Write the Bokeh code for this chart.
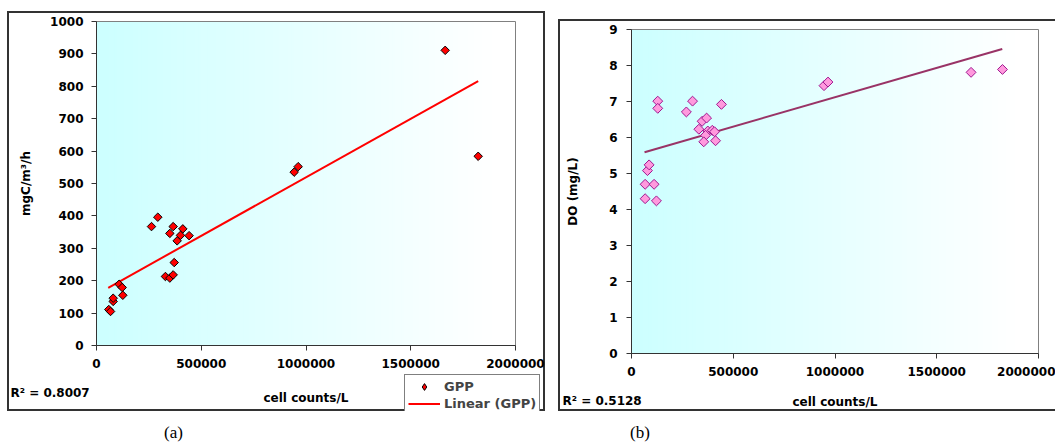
import numpy as np
from bokeh.plotting import figure
from bokeh.models import (Range1d, FixedTicker, NumeralTickFormatter, Label,
                          Legend, LegendItem, Div)
from bokeh.layouts import row, column
from bokeh.embed import file_html
from bokeh.resources import INLINE

# ---------------- data ----------------
cell_counts_gpp = [58700, 67000, 79600, 79600, 108000, 122600, 125600, 262500,
                   292600, 350000, 366000, 412000, 401000, 385000, 442000,
                   371000, 329000, 350000, 366000, 943600, 962600, 1664400,
                   1821900]
gpp = [111, 105, 136, 146, 189, 179, 155, 367, 396, 346, 367, 360, 340, 323,
       339, 256, 213, 208, 218, 535, 552, 911, 584]

cell_counts_do = [67000, 122500, 67000, 111000, 78400, 86600, 129000, 129000,
                  269600, 300000, 442000, 347000, 369000, 331000, 375000,
                  397000, 408000, 364000, 355000, 413000, 946000, 965600,
                  1668600, 1823000]
do_vals = [4.30, 4.24, 4.70, 4.70, 5.08, 5.24, 7.01, 6.81, 6.71, 7.01, 6.92,
           6.45, 6.54, 6.23, 6.18, 6.20, 6.16, 6.06, 5.88, 5.91, 7.44, 7.54,
           7.81, 7.89]

trend_gpp_x = [56000, 1822000]
trend_gpp_y = [178, 816]
trend_do_x = [64000, 1822000]
trend_do_y = [5.59, 8.46]

x_ticks = [0, 500000, 1000000, 1500000, 2000000]
gpp_ticks = [0, 100, 200, 300, 400, 500, 600, 700, 800, 900, 1000]
do_ticks = [0, 1, 2, 3, 4, 5, 6, 7, 8, 9]

x_label = "cell counts/L"
gpp_label = "mgC/m³/h"
do_label = "DO (mg/L)"
r2_gpp = "R² = 0.8007"
r2_do = "R² = 0.5128"
legend_labels = ["GPP", "Linear (GPP)"]
captions = ["(a)", "(b)"]

FONT = "DejaVu Sans"
FS = "12px"
XMAX = 2000000


class Geo:
    """canvas-pixel geometry of the plot area inside a chart canvas"""
    def __init__(self, W, H, left, right, top, bottom, ymax):
        self.W, self.H = W, H
        self.l, self.r, self.t, self.b = left, right, top, bottom
        self.ymax = ymax

    def x(self, px):
        return (px - self.l) / (self.r - self.l) * XMAX

    def y(self, py):
        return (self.b - py) / (self.b - self.t) * self.ymax


def make_fig(g, margin, shadow):
    p = figure(width=g.W, height=g.H, output_backend="svg",
               toolbar_location=None,
               x_range=Range1d(g.x(0), g.x(g.W)),
               y_range=Range1d(g.y(g.H), g.y(0)),
               min_border=0, min_border_left=0, min_border_right=0,
               min_border_top=0, min_border_bottom=0,
               background_fill_color=None, border_fill_color=None,
               outline_line_color=None, margin=margin,
               styles={"box-shadow": shadow})
    return p


def gradient(p, ymax):
    n = 140
    edges = np.linspace(0, XMAX, n + 1)
    w = edges[1] - edges[0]
    lefts = edges[:-1]
    rights = np.minimum(lefts + 1.6 * w, XMAX)
    cols = []
    for l in lefts:
        t = (l + w / 2) / XMAX
        f = min(1.0, t / 0.95)
        r = int(round(204 + 51 * f))
        cols.append("#%02xffff" % r)
    p.quad(left=lefts, right=rights, bottom=0, top=ymax, fill_color=cols,
           line_color=None)
    p.quad(left=0, right=XMAX, bottom=0, top=ymax, fill_color=None,
           line_color="#808080", line_width=1)


def style(p, yticks, ymax, ylabel, y_std, y_label_std, x_std, x_label_std):
    p.xgrid.visible = False
    p.ygrid.visible = False
    p.xaxis.ticker = FixedTicker(ticks=x_ticks)
    p.xaxis.formatter = NumeralTickFormatter(format="0")
    p.yaxis.ticker = FixedTicker(ticks=yticks)
    p.xaxis.fixed_location = 0
    p.yaxis.fixed_location = 0
    p.xaxis.bounds = (0, XMAX)
    p.yaxis.bounds = (0, ymax)
    for ax in (p.xaxis[0], p.yaxis[0]):
        ax.axis_line_color = "#333333"
        ax.major_tick_line_color = "#333333"
        ax.major_tick_out = 5
        ax.major_tick_in = 0
        ax.minor_tick_out = 0
        ax.minor_tick_in = 0
        ax.major_label_text_font = FONT
        ax.major_label_text_font_style = "bold"
        ax.major_label_text_font_size = FS
        ax.major_label_text_color = "black"
        ax.axis_label_text_font = FONT
        ax.axis_label_text_font_style = "bold"
        ax.axis_label_text_font_size = FS
        ax.axis_label_text_color = "black"
    p.yaxis.axis_label = ylabel
    p.yaxis.major_label_standoff = y_std
    p.yaxis.axis_label_standoff = y_label_std
    p.xaxis.axis_label = x_label
    p.xaxis.major_label_standoff = x_std
    p.xaxis.axis_label_standoff = x_label_std


def r2_label(p, g, px, py, text):
    p.add_layout(Label(x=g.x(px), y=g.y(py), text=text,
                       text_baseline="middle", text_align="left",
                       text_font=FONT, text_font_style="bold",
                       text_font_size=FS, text_color="black"))


# ---------------- chart (a) ----------------
ga = Geo(538, 400, 89, 508, 10, 334, 1000)
pa = make_fig(ga, (11, 0, 0, 7), "inset 0 0 0 2px #333333")
gradient(pa, 1000)
style(pa, gpp_ticks, 1000, gpp_label, 8, 14, 8, 20)
ln_a = pa.line(trend_gpp_x, trend_gpp_y, line_color="#ff0000", line_width=2)
# legend key: small diamonds hidden under the visible markers (Bokeh legends
# draw markers unrotated and at a size set by the legend glyph box)
key_a = pa.scatter(cell_counts_gpp, gpp, marker="diamond", size=3,
                   fill_color="#ff0000", line_color="black", line_width=1)
pa.scatter(cell_counts_gpp, gpp, marker="square", size=6, angle=np.pi / 4,
           fill_color="#ff0000", line_color="black", line_width=1)
r2_label(pa, ga, 3, 381, r2_gpp)
legend = Legend(items=[LegendItem(label=legend_labels[0], renderers=[key_a]),
                       LegendItem(label=legend_labels[1], renderers=[ln_a])],
                location=(397, -5), border_line_color="black",
                border_line_width=1.5, background_fill_color="white",
                background_fill_alpha=1, padding=3, spacing=0, margin=0,
                glyph_width=32, glyph_height=17, label_standoff=4,
                label_height=15, label_text_font=FONT,
                label_text_font_style="bold", label_text_font_size="13px")
pa.add_layout(legend)

# ---------------- chart (b) ----------------
gb = Geo(497, 392, 73, 480, 10, 334, 9)
pb = make_fig(gb, (19, 0, 0, 13),
              "inset 2px 0 0 #333333, inset 0 2px 0 #333333, "
              "inset 0 -2px 0 #333333")
gradient(pb, 9)
style(pb, do_ticks, 9, do_label, 9, 26, 8, 16)
pb.line(trend_do_x, trend_do_y, line_color="#993366", line_width=2)
pb.scatter(cell_counts_do, do_vals, marker="square", size=7,
           angle=np.pi / 4, fill_color="#ff99dd", line_color="#a01890",
           line_width=1)
r2_label(pb, gb, 4, 381, r2_do)

cap_style = {"font-family": "Liberation Serif", "font-size": "17px",
             "color": "black", "line-height": "26px"}
div_a = Div(text=captions[0], width=40, height=26, margin=(9, 0, 0, 164),
            styles=cap_style)
div_b = Div(text=captions[1], width=40, height=26, margin=(9, 0, 0, 85),
            styles=cap_style)

layout = row(column(pa, div_a), column(pb, div_b))

open("out.html", "w").write(file_html(layout, INLINE))
